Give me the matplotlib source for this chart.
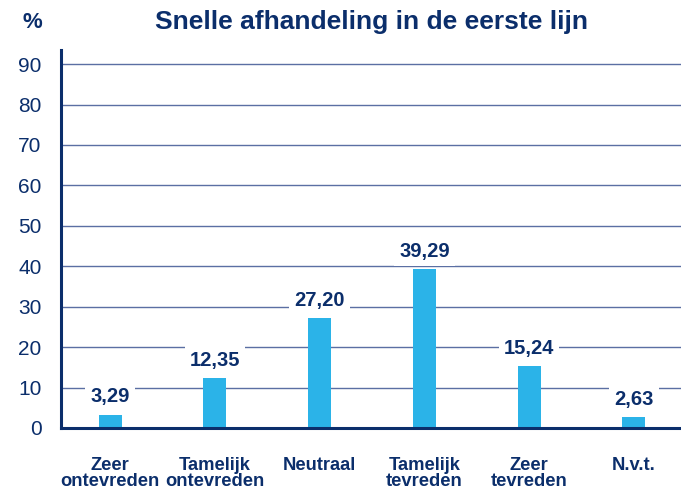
import matplotlib.pyplot as plt

categories = ["Zeer\nontevreden", "Tamelijk\nontevreden", "Neutraal",
              "Tamelijk\ntevreden", "Zeer\ntevreden", "N.v.t."]
values = [3.29, 12.35, 27.20, 39.29, 15.24, 2.63]
labels = ["3,29", "12,35", "27,20", "39,29", "15,24", "2,63"]
yticks = [0, 10, 20, 30, 40, 50, 60, 70, 80, 90]

navy = "#0b2e6b"
blue = "#2bb3e8"
grid = "#5b6fa3"

plt.rcParams['font.family'] = ['Liberation Sans Narrow', 'Liberation Sans', 'DejaVu Sans']

fig = plt.figure(figsize=(6.81, 4.95), dpi=100)
ax = fig.add_axes([0.0896, 0.1354, 0.9104, 0.7636])

x = list(range(len(values)))
ax.bar(x, values, width=0.22, color=blue, zorder=2)

for xi, v, lab in zip(x, values, labels):
    ax.annotate(lab, (xi, v), xytext=(0, 6), textcoords="offset points",
                ha="center", va="bottom", fontsize=14.5, fontweight="bold",
                color=navy, zorder=4,
                bbox=dict(boxstyle="square,pad=0.25", fc="white", ec="none"))

ax.set_xlim(-0.468, 5.449)
ax.set_ylim(0, 93.5)
ax.set_yticks(yticks)
ax.set_yticklabels([str(t) for t in yticks], fontsize=15, color=navy)
ax.set_xticks(x)
ax.set_xticklabels(categories, fontsize=13.2, fontweight="bold", color=navy,
                   linespacing=0.95)
ax.tick_params(axis="both", length=0)
ax.tick_params(axis="y", pad=14)
ax.tick_params(axis="x", pad=21)

ax.grid(axis="y", color=grid, linewidth=1.0, zorder=0)
ax.set_axisbelow(True)
for s in ["top", "right"]:
    ax.spines[s].set_visible(False)
for s in ["left", "bottom"]:
    ax.spines[s].set_color(navy)
    ax.spines[s].set_linewidth(2.2)

fig.text(0.048, 0.955, "%", fontsize=16, fontweight="bold", color=navy,
         ha="center", va="center")
fig.text(0.545, 0.955, "Snelle afhandeling in de eerste lijn", fontsize=19,
         fontweight="bold", color=navy, ha="center", va="center")

fig.savefig("out.png", dpi=100)
